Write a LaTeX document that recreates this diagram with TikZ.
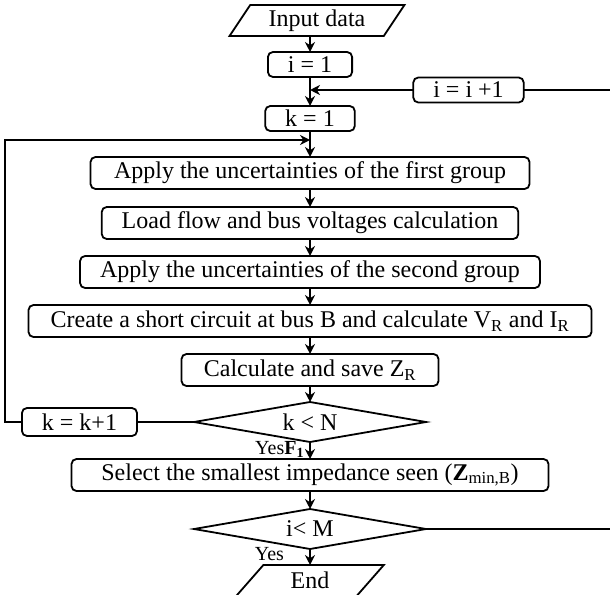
\documentclass[tikz,border=0pt]{standalone}
\usepackage{fontspec}
\setmainfont{Liberation Serif}
\usetikzlibrary{shapes,arrows,arrows.meta,positioning}

\begin{document}
\begin{tikzpicture}[x=1pt,y=1pt,% all lengths in points, y runs downward
			every node/.style={
				align=center,  		% keep "\\" usable in the boxes
				outer sep=0pt,		% gaps are measured from the drawn border
				font=\fontsize{24}{26}\selectfont
			},
			box/.style={rectangle,rounded corners=5pt,draw=black,line width=1.8pt,inner xsep=20pt,inner ysep=3pt,minimum height=32pt},
			io/.style={trapezium,trapezium left angle=60,trapezium right angle=120,trapezium stretches=true,draw=black,line width=1.8pt,inner ysep=3pt,minimum width=175pt,minimum height=31pt},
			decision/.style={diamond,draw=black,line width=1.8pt,shape aspect=5.8,inner sep=0pt,minimum width=232pt,minimum height=40pt},
			lbl/.style={font=\fontsize{20}{22}\selectfont,inner sep=0pt},
			>={Stealth[length=10pt,width=10pt]},
			every edge/.style={draw,line width=1.8pt}
		]
		\useasboundingbox (0,0) rectangle (610,-594);
		\clip (0,0) rectangle (610,-594);
		\node[io](in) at (317,-20.5){Input data};
		\node[box,minimum height=25pt](i1)[below=16pt of in,xshift=-7pt]{i = 1};
		\node[box,minimum height=25pt](k1)[below=29pt of i1]{k = 1};
		\node[box,minimum width=439pt](unc1)[below=26pt of k1]{Apply the uncertainties of the first group};
		\node[box,minimum width=415pt](flow)[below=18pt of unc1]{Load flow and bus voltages calculation};
		\node[box,minimum width=454pt](unc2)[below=17pt of flow]{Apply the uncertainties of the second group};
		\node[box,minimum width=563pt](sc)[below=17pt of unc2]{Create a short circuit at bus B and calculate V\textsubscript{R} and I\textsubscript{R}};
		\node[box,minimum width=257pt](zr)[below=17pt of sc]{Calculate and save Z\textsubscript{R}};
		\node[decision](kN)[below=16pt of zr]{k < N};
		\node[box,minimum width=477pt](zmin)[below=17pt of kN]{Select the smallest impedance seen (\textbf{Z}\textsubscript{min,B})};
		\node[decision](iM)[below=18pt of zmin]{i< M};
		\node[io,minimum width=148pt](end)[below=16pt of iM]{End};
		\node[box,minimum height=25pt,minimum width=105pt](inci) at (468.5,-90){i = i +1};
		\node[box,minimum height=28pt,minimum width=98pt](inck)[left=57pt of kN]{k = k+1};
		\node[lbl,anchor=base east](yes1) at ([xshift=-6pt,yshift=5pt]kN.south |- zmin.north){Yes\textbf{F}\textsubscript{\textbf{1}}};
		\node[lbl,anchor=base east](yes2) at ([xshift=-26pt,yshift=5pt]iM.south |- end.north){Yes};
		\coordinate (ji) at (i1.south |- inci.west);
		\coordinate (jk) at ([yshift=-9pt]k1.south);
		\coordinate (lc) at (4.7,0);
		\coordinate (rc) at (614,0);
		\path[->]
		(in.south -| i1.north)edge (i1)
		(i1)edge (k1)
		(k1)edge (unc1)
		(unc1)edge (flow)
		(flow)edge (unc2)
		(unc2)edge (sc)
		(sc)edge (zr)
		(zr)edge (kN)
		(kN)edge (zmin)
		(zmin)edge (iM)
		(iM)edge (end)
		(inci)edge (ji)
		;
		% loops back to the counters
		\draw[line width=1.8pt] (iM.east) -- (iM.east -| rc) |- (inci.east);
		\draw[line width=1.8pt] (kN.west) -- (inck.east);
		\draw[line width=1.8pt,->] (inck.west) -- (inck.west -| lc) |- (jk);
	\end{tikzpicture}
\end{document}
